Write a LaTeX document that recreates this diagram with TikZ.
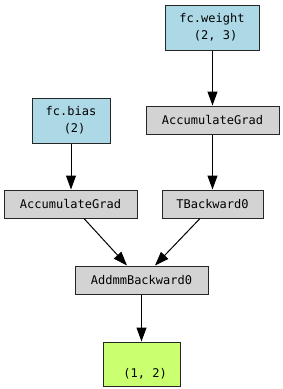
\documentclass[tikz,border=0pt]{standalone}
\usepackage{fontspec}
\setmonofont{DejaVu Sans Mono}
\usetikzlibrary{arrows.meta}
\definecolor{paramblue}{RGB}{173,216,230}
\definecolor{opgrey}{RGB}{211,211,211}
\definecolor{outgreen}{RGB}{202,255,112}
\tikzset{
  box/.style={draw=black!85, line width=1pt, inner sep=0pt, align=center,
    font=\ttfamily\fontsize{12}{17}\selectfont},
  param/.style={box, fill=paramblue},
  op/.style={box, fill=opgrey},
  outbox/.style={box, fill=outgreen},
  edge/.style={line width=1pt, -{Triangle[length=14pt,width=10pt]}}
}
\begin{document}
\begin{tikzpicture}[x=1pt,y=-1pt]
\useasboundingbox (0,0) rectangle (283,389);
\node[param, minimum width=94pt, minimum height=45pt] (w) at (212,27.5) {fc.weight\\\ (2, 3)};
\node[param, minimum width=78pt, minimum height=45pt] (b) at (71,120.5) {fc.bias\\\ (2)};
\node[op, minimum width=133pt, minimum height=28pt] (accw) at (212.5,120) {AccumulateGrad};
\node[op, minimum width=133pt, minimum height=28pt] (accb) at (70.5,204) {AccumulateGrad};
\node[op, minimum width=101pt, minimum height=28pt] (tb) at (212.5,204) {TBackward0};
\node[op, minimum width=133pt, minimum height=28pt] (add) at (141.5,280) {AddmmBackward0};
\node[outbox, minimum width=77pt, minimum height=44pt] (out) at (141.5,364) {\strut\\\ (1, 2)};
\draw[edge] (w.south -| accw.north) -- (accw.north);
\draw[edge] (b.south) -- (b.south |- accb.north);
\draw[edge] (accw) -- (tb);
\draw[edge] ([xshift=13.5pt]accb.south) -- ([xshift=-14.5pt]add.north);
\draw[edge] ([xshift=-12.5pt]tb.south) -- ([xshift=13.5pt]add.north);
\draw[edge] (add) -- (out);
\end{tikzpicture}
\end{document}
